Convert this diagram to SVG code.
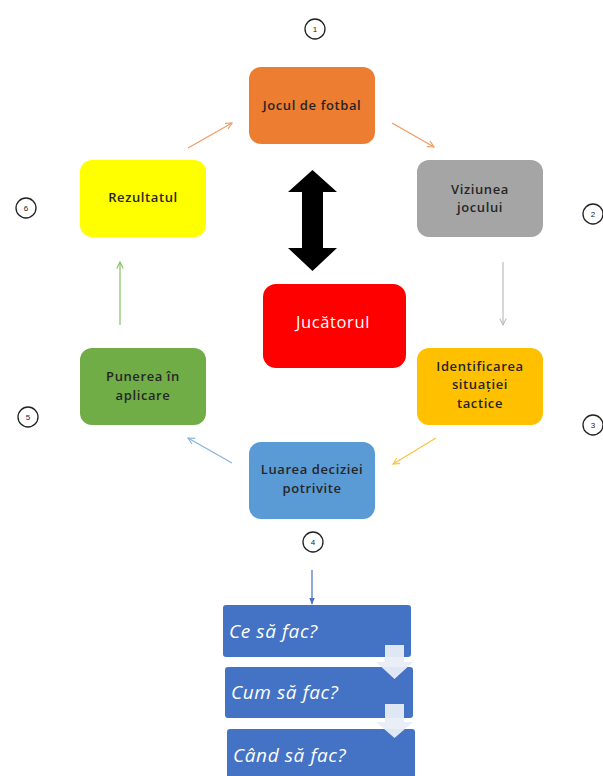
<svg xmlns="http://www.w3.org/2000/svg" width="603" height="776" viewBox="0 0 603 776">
  <style>
    .box { stroke: none; }
    .lbl { font-family: "Open Sans", "Liberation Sans", sans-serif; font-size: 13px; letter-spacing: 0.6px; font-weight: 600; fill: #262626; text-anchor: middle; }
    .num { fill: #fff; stroke: #222; stroke-width: 1.3; }
    .numt { font-family: "Liberation Sans", sans-serif; font-size: 8px; fill: #222; text-anchor: middle; }
    .q { font-family: "Open Sans", "Liberation Sans", sans-serif; font-style: italic; font-size: 19px; letter-spacing: 0.6px; fill: #fff; }
    .link { fill: none; stroke-width: 1.2; }
  </style>
  <defs>
    <marker id="hOrange" viewBox="0 0 10 10" refX="9" refY="5" markerWidth="8" markerHeight="8" markerUnits="userSpaceOnUse" orient="auto">
      <path d="M1,1 L9,5 L1,9" fill="none" stroke="#F19A64" stroke-width="1.4"/>
    </marker>
    <marker id="hGray" viewBox="0 0 10 10" refX="9" refY="5" markerWidth="8" markerHeight="8" markerUnits="userSpaceOnUse" orient="auto">
      <path d="M1,1 L9,5 L1,9" fill="none" stroke="#BDBDBD" stroke-width="1.4"/>
    </marker>
    <marker id="hGold" viewBox="0 0 10 10" refX="9" refY="5" markerWidth="8" markerHeight="8" markerUnits="userSpaceOnUse" orient="auto">
      <path d="M1,1 L9,5 L1,9" fill="none" stroke="#FFC23A" stroke-width="1.4"/>
    </marker>
    <marker id="hBlue" viewBox="0 0 10 10" refX="9" refY="5" markerWidth="8" markerHeight="8" markerUnits="userSpaceOnUse" orient="auto">
      <path d="M1,1 L9,5 L1,9" fill="none" stroke="#86B3E0" stroke-width="1.4"/>
    </marker>
    <marker id="hGreen" viewBox="0 0 10 10" refX="9" refY="5" markerWidth="8" markerHeight="8" markerUnits="userSpaceOnUse" orient="auto">
      <path d="M1,1 L9,5 L1,9" fill="none" stroke="#86C266" stroke-width="1.4"/>
    </marker>
    <marker id="hDark" viewBox="0 0 10 10" refX="9" refY="5" markerWidth="7" markerHeight="7" markerUnits="userSpaceOnUse" orient="auto">
      <path d="M0,1 L10,5 L0,9 Z" fill="#4472C4"/>
    </marker>
  </defs>

  <!-- cycle connectors -->
  <g id="connectors">
    <line class="link" x1="188" y1="148" x2="232" y2="123" stroke="#F19A64" marker-end="url(#hOrange)"/>
    <line class="link" x1="392" y1="123" x2="434" y2="147" stroke="#F19A64" marker-end="url(#hOrange)"/>
    <line class="link" x1="503" y1="262" x2="503" y2="325" stroke="#BDBDBD" marker-end="url(#hGray)"/>
    <line class="link" x1="436" y1="438" x2="393" y2="464" stroke="#FFC23A" marker-end="url(#hGold)"/>
    <line class="link" x1="232" y1="463" x2="188" y2="438" stroke="#86B3E0" marker-end="url(#hBlue)"/>
    <line class="link" x1="120" y1="325" x2="120" y2="262" stroke="#86C266" marker-end="url(#hGreen)"/>
    <line class="link" x1="312" y1="570" x2="312" y2="604" stroke="#4472C4" marker-end="url(#hDark)"/>
    <!-- double-headed block arrow between the game and the player -->
    <path d="M312.5,170 L337,192 L323,192 L323,248 L337,248 L312.5,271 L288,248 L302,248 L302,192 L288,192 Z" fill="#000"/>
  </g>

  <!-- step markers -->
  <g id="markers">
    <circle class="num" cx="315" cy="29" r="10"/><text class="numt" x="315" y="32">1</text>
    <circle class="num" cx="593" cy="214" r="10"/><text class="numt" x="593" y="217">2</text>
    <circle class="num" cx="593" cy="425" r="10"/><text class="numt" x="593" y="428">3</text>
    <circle class="num" cx="313" cy="542" r="10"/><text class="numt" x="313" y="545">4</text>
    <circle class="num" cx="28" cy="417" r="10"/><text class="numt" x="28" y="420">5</text>
    <circle class="num" cx="26" cy="208" r="10"/><text class="numt" x="26" y="211">6</text>
  </g>

  <g id="jocul">
    <rect class="box" x="249" y="67" width="126" height="77" rx="12" fill="#ED7D31"/>
    <text class="lbl" x="312" y="110">Jocul de fotbal</text>
  </g>
  <g id="viziunea">
    <rect class="box" x="417" y="160" width="126" height="77" rx="12" fill="#A5A5A5"/>
    <text class="lbl" x="480" y="194">Viziunea</text>
    <text class="lbl" x="480" y="212">jocului</text>
  </g>
  <g id="identificarea">
    <rect class="box" x="417" y="348" width="126" height="77" rx="12" fill="#FFC000"/>
    <text class="lbl" x="480" y="371">Identificarea</text>
    <text class="lbl" x="480" y="389">situației</text>
    <text class="lbl" x="480" y="408">tactice</text>
  </g>
  <g id="luarea">
    <rect class="box" x="249" y="442" width="126" height="77" rx="12" fill="#5B9BD5"/>
    <text class="lbl" x="312" y="474">Luarea deciziei</text>
    <text class="lbl" x="312" y="493">potrivite</text>
  </g>
  <g id="punerea">
    <rect class="box" x="80" y="348" width="126" height="77" rx="12" fill="#70AD47"/>
    <text class="lbl" x="143" y="381">Punerea în</text>
    <text class="lbl" x="143" y="400">aplicare</text>
  </g>
  <g id="rezultatul">
    <rect class="box" x="80" y="160" width="126" height="77" rx="12" fill="#FFFF00"/>
    <text class="lbl" x="143" y="202">Rezultatul</text>
  </g>
  <g id="jucatorul">
    <rect class="box" x="263" y="284" width="143" height="84" rx="13" fill="#FF0000"/>
    <text x="333" y="328" font-family="'Open Sans', 'Liberation Sans', sans-serif" font-size="16.5" letter-spacing="0.6" fill="#fff" text-anchor="middle">Jucătorul</text>
  </g>

  <!-- question steps -->
  <g id="ce">
    <rect x="223" y="605" width="188" height="52" rx="3" fill="#4472C4"/>
    <text class="q" x="229" y="638">Ce să fac?</text>
  </g>
  <g id="cum">
    <rect x="225" y="667" width="188" height="51" rx="3" fill="#4472C4"/>
    <text class="q" x="231" y="699">Cum să fac?</text>
  </g>
  <g id="cand">
    <rect x="227" y="729" width="188" height="60" rx="3" fill="#4472C4"/>
    <text class="q" x="233" y="762">Când să fac?</text>
  </g>
  <g id="step-arrows">
    <path d="M385,645 L404,645 L404,662 L413,662 L394.5,679 L376,662 L385,662 Z" fill="#E9EDF7" fill-opacity="0.95"/>
    <path d="M385,704 L404,704 L404,722 L413,722 L394.5,738 L376,722 L385,722 Z" fill="#E9EDF7" fill-opacity="0.95"/>
  </g>
</svg>
